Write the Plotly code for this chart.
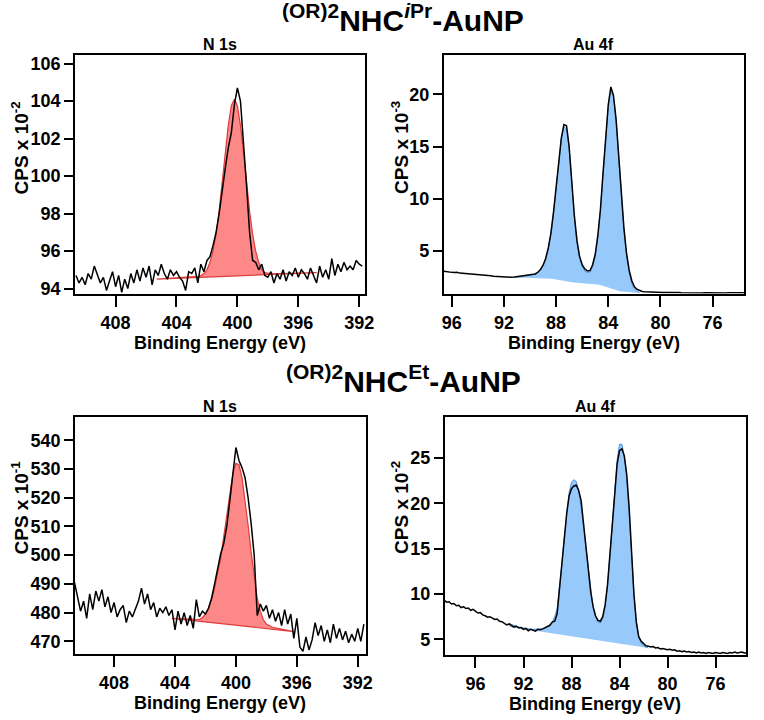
import numpy as np
import plotly.graph_objects as go

STEP = 0.2

# ---------------- Panel A: N 1s, (OR)2NHC-iPr ----------------
n1s_ipr_start = 410.6
n1s_ipr_cps = [
    94.7, 94.3, 94.6, 94.2, 94.8, 94.5, 95.2, 94.7, 94.3, 94.6,
    93.9, 94.4, 94.9, 94.1, 94.7, 93.8, 94.5, 94.0, 94.8, 94.3,
    95.0, 94.4, 95.1, 94.6, 95.2, 94.2, 95.0, 94.7, 95.3, 94.8,
    94.5, 95.0, 94.7, 94.9, 94.6, 94.4, 93.9, 94.9, 94.8, 95.1,
    94.3, 95.3, 94.9, 95.5, 95.7, 96.3, 97.0, 98.0, 99.3, 100.4,
    101.5, 102.3, 103.8, 104.7, 104.0, 101.9, 99.5, 97.0, 95.5, 95.4,
    95.0, 95.3, 94.7, 94.6, 94.9, 94.3, 94.8, 94.5, 95.0, 94.4,
    94.9, 94.7, 95.1, 94.6, 95.0, 94.8, 94.5, 95.1, 94.7, 94.3,
    95.2, 94.6, 95.0, 94.5, 95.6, 94.7, 95.3, 94.9, 95.4, 95.0,
    95.2, 95.0, 95.5, 95.3, 95.2,
]
n1s_ipr_fit_start = 402.8
n1s_ipr_fit = [
    94.63, 94.65, 94.7, 94.8, 95.0, 95.4, 96.0, 96.9, 98.15, 99.65,
    101.3, 102.7, 103.75, 104.1, 103.75, 102.7, 101.3, 99.65, 98.15, 96.9,
    96.0, 95.4, 95.0, 94.85, 94.8, 94.78,
]
n1s_ipr_bg_x = [405.3, 394.8]
n1s_ipr_bg_y = [94.5, 94.85]

# ---------------- Panel B: Au 4f, (OR)2NHC-iPr ----------------
au_ipr_start = 96.6
au_ipr_cps = [
    3.08, 3.02, 3.0, 2.97, 2.95, 2.97, 2.9, 2.88, 2.9, 2.84,
    2.82, 2.8, 2.78, 2.76, 2.73, 2.72, 2.68, 2.66, 2.64, 2.6,
    2.58, 2.56, 2.55, 2.53, 2.5, 2.52,
    2.5, 2.52, 2.55, 2.58, 2.6, 2.63, 2.66, 2.7, 2.75, 2.82,
    2.98, 3.25, 3.65, 4.3, 5.3, 6.7, 8.7, 11.2, 13.7, 15.8,
    17.1, 17.0, 15.0, 11.6, 8.4, 6.0, 4.5, 3.7, 3.3, 3.1,
    3.15, 3.7, 4.7, 6.5, 9.0, 12.5, 16.0, 19.0, 20.7, 19.9,
    17.6, 14.2, 10.5, 7.2, 4.8, 3.2, 2.2, 1.6, 1.35, 1.22,
    1.15, 1.12, 1.1, 1.08, 1.07, 1.06, 1.06, 1.05,
    1.05, 1.04, 1.05, 1.03, 1.04, 1.02, 1.04, 1.03, 1.02, 1.04,
    1.02, 1.03, 1.01, 1.03, 1.02, 1.0, 1.02, 1.01, 1.03, 1.0,
    1.02, 1.01, 1.0, 1.02, 1.0, 1.01, 1.03, 1.0, 1.02, 1.01,
    1.03, 1.02,
]
au_ipr_fit_start = 91.2
au_ipr_fit = [
    2.5, 2.5, 2.52, 2.55, 2.58, 2.62, 2.67, 2.73, 2.8, 2.95,
    3.2, 3.6, 4.2, 5.2, 6.6, 8.6, 11.0, 13.6, 15.7, 16.9,
    16.7, 14.8, 11.4, 8.2, 5.8, 4.3, 3.5, 3.1, 2.95, 3.0,
    3.5, 4.5, 6.3, 8.8, 12.3, 15.8, 18.8, 20.4, 19.7, 17.5,
    14.0, 10.3, 7.0, 4.6, 2.9, 1.9, 1.4, 1.15, 1.05,
]
au_ipr_bg = [
    2.5, 2.49, 2.48, 2.47, 2.46, 2.45, 2.44, 2.43, 2.42, 2.41,
    2.4, 2.39, 2.38, 2.37, 2.35, 2.33, 2.3, 2.26, 2.22, 2.17,
    2.12, 2.07, 2.02, 1.98, 1.95, 1.93, 1.92, 1.9, 1.89, 1.88,
    1.86, 1.84, 1.81, 1.77, 1.72, 1.65, 1.56, 1.46, 1.36, 1.27,
    1.19, 1.13, 1.09, 1.06, 1.04, 1.03, 1.02, 1.01, 1.0,
]

# ---------------- Panel C: N 1s, (OR)2NHC-Et ----------------
n1s_et_start = 410.6
n1s_et_cps = [
    490.5, 485.0, 480.5, 484.0, 478.0, 486.5, 481.0, 487.5, 484.0, 488.0,
    482.0, 485.5, 480.0, 483.5, 478.5, 481.0, 482.5, 476.5, 480.5, 478.5,
    481.5, 484.0, 488.5, 483.0, 486.5, 481.0, 483.5, 478.5, 481.5, 480.0,
    482.0, 479.0, 481.0, 474.0, 480.5, 476.0, 480.0, 475.5, 479.0, 474.5,
    484.5, 478.5, 480.5, 479.5, 481.5, 485.0, 490.0, 496.0, 500.5, 504.0,
    510.0, 519.0, 528.0, 537.5, 533.0, 530.5, 527.0, 520.0, 511.0, 500.0,
    479.0, 483.0, 480.5, 482.5, 478.0, 481.0, 477.0, 480.0, 475.5, 481.0,
    476.0, 479.5, 471.0, 478.0, 468.0, 466.5, 471.5, 467.0, 470.5, 476.5,
    472.0, 475.5, 470.0, 474.0, 469.5, 476.0, 471.0, 474.5, 470.5, 473.5,
    469.5, 472.5, 470.0, 474.5, 470.0, 476.0,
]
n1s_et_fit_start = 402.4
n1s_et_fit = [
    477.6, 478.3, 479.5, 481.5, 484.5, 488.5, 493.5, 499.0, 506.5, 514.5,
    522.0, 528.5, 532.0, 531.5, 527.0, 519.5, 510.5, 501.0, 492.0, 485.0,
    480.5, 477.5, 476.0, 475.3, 474.9,
]
n1s_et_bg_x = [404.2, 396.2]
n1s_et_bg_y = [478.0, 473.4]

# ---------------- Panel D: Au 4f, (OR)2NHC-Et ----------------
au_et_start = 98.6
au_et_cps = [
    9.3, 9.1, 9.15, 8.9, 8.95, 8.7, 8.75, 8.5, 8.6, 8.4,
    8.45, 8.2, 8.3, 8.1, 7.9, 7.95, 7.7, 7.6, 7.45, 7.5,
    7.3, 7.2, 7.25, 7.0, 6.95, 6.8, 6.6, 6.7, 6.5, 6.35,
    6.45, 6.25, 6.3, 6.1, 6.2, 5.95, 6.1, 6.0, 5.9, 6.1,
    6.05, 6.15, 6.3, 6.4, 6.55, 6.9, 7.0, 7.8, 10.8, 13.5,
    16.3, 18.9, 20.8, 21.6, 21.9, 22.0, 21.4, 20.3, 17.8, 15.2,
    12.6, 10.2, 8.6, 7.6, 7.1, 7.0, 7.5, 8.8, 11.0, 14.2,
    17.6, 21.2, 24.3, 25.8, 26.0, 25.2, 23.2, 19.6, 14.6, 10.0,
    6.9, 5.3, 4.8, 4.5, 4.3, 4.25, 4.15, 4.2, 4.05, 4.1,
    3.95, 4.0, 3.9, 3.85, 3.9, 3.8, 3.85, 3.7, 3.75, 3.65,
    3.7, 3.6, 3.65, 3.55, 3.6, 3.5, 3.6, 3.5, 3.55, 3.45,
    3.55, 3.5, 3.45, 3.55, 3.5, 3.45, 3.55, 3.5, 3.45, 3.55,
    3.5, 3.6, 3.5, 3.55, 3.6, 3.5, 3.5,
]
au_et_fit_start = 93.2
au_et_fit = [
    6.75, 6.62, 6.52, 6.44, 6.36, 6.3, 6.25, 6.2, 6.15, 6.12,
    6.1, 6.1, 6.1, 6.12, 6.16, 6.24, 6.38, 6.6, 6.95, 7.5,
    8.4, 10.6, 13.3, 16.2, 19.0, 21.2, 22.3, 22.6, 22.4, 21.3,
    19.5, 17.3, 14.8, 12.3, 10.1, 8.5, 7.5, 6.9, 6.8, 7.3,
    8.6, 10.9, 14.2, 18.0, 21.8, 24.8, 26.5, 26.5, 25.2, 22.6,
    18.8, 14.3, 10.0, 7.0, 5.3, 4.6, 4.3, 4.15, 4.05,
]
au_et_bg_x = [93.2, 81.6]
au_et_bg_y = [6.4, 4.05]

# ---------------- text ----------------
titles = ["<b><sup>(OR)2</sup>NHC<sup><i>i</i>Pr</sup>-AuNP</b>",
          "<b><sup>(OR)2</sup>NHC<sup>Et</sup>-AuNP</b>"]
panel_titles = ["N 1s", "Au 4f", "N 1s", "Au 4f"]
y_titles = ["CPS x 10<sup>-2</sup>", "CPS x 10<sup>-3</sup>",
            "CPS x 10<sup>-1</sup>", "CPS x 10<sup>-2</sup>"]
x_title = "Binding Energy (eV)"
n1s_ticks = [408, 404, 400, 396, 392]
au_ticks = [96, 92, 88, 84, 80, 76]
yticks = [[94, 96, 98, 100, 102, 104, 106], [5, 10, 15, 20],
          [470, 480, 490, 500, 510, 520, 530, 540], [5, 10, 15, 20, 25]]


def grid(start, vals):
    return np.round(start - STEP * np.arange(len(vals)), 2)


W, H = 764, 720
RED_FILL = "rgba(252,130,130,0.95)"
RED_LINE = "#e23b3b"
BLUE_FILL = "rgba(145,199,250,0.95)"
BLUE_LINE = "#4a97e3"

fig = go.Figure()

# Panel A
fx = list(grid(n1s_ipr_fit_start, n1s_ipr_fit))
fig.add_trace(go.Scatter(
    x=[n1s_ipr_bg_x[0]] + fx + [n1s_ipr_bg_x[1], n1s_ipr_bg_x[0]],
    y=[n1s_ipr_bg_y[0]] + n1s_ipr_fit + [n1s_ipr_bg_y[1], n1s_ipr_bg_y[0]],
    fill="toself", fillcolor=RED_FILL, mode="lines",
    line=dict(color=RED_LINE, width=1.2), xaxis="x", yaxis="y"))
fig.add_trace(go.Scatter(x=grid(n1s_ipr_start, n1s_ipr_cps), y=n1s_ipr_cps, mode="lines",
                         line=dict(color="black", width=1.5), xaxis="x", yaxis="y"))

# Panel B
fx = list(grid(au_ipr_fit_start, au_ipr_fit))
fig.add_trace(go.Scatter(
    x=fx + fx[::-1], y=au_ipr_fit + au_ipr_bg[::-1],
    fill="toself", fillcolor=BLUE_FILL, mode="lines",
    line=dict(width=0), xaxis="x2", yaxis="y2"))
fig.add_trace(go.Scatter(x=fx, y=au_ipr_fit, mode="lines",
                         line=dict(color=BLUE_LINE, width=1), xaxis="x2", yaxis="y2"))
fig.add_trace(go.Scatter(x=grid(au_ipr_start, au_ipr_cps), y=au_ipr_cps, mode="lines",
                         line=dict(color="black", width=1.5), xaxis="x2", yaxis="y2"))

# Panel C
fx = list(grid(n1s_et_fit_start, n1s_et_fit))
fig.add_trace(go.Scatter(
    x=[n1s_et_bg_x[0]] + fx + [n1s_et_bg_x[1], n1s_et_bg_x[0]],
    y=[n1s_et_bg_y[0]] + n1s_et_fit + [n1s_et_bg_y[1], n1s_et_bg_y[0]],
    fill="toself", fillcolor=RED_FILL, mode="lines",
    line=dict(color=RED_LINE, width=1.2), xaxis="x3", yaxis="y3"))
fig.add_trace(go.Scatter(x=grid(n1s_et_start, n1s_et_cps), y=n1s_et_cps, mode="lines",
                         line=dict(color="black", width=1.5), xaxis="x3", yaxis="y3"))

# Panel D
fx = list(grid(au_et_fit_start, au_et_fit))
fig.add_trace(go.Scatter(
    x=[au_et_bg_x[0]] + fx + [au_et_bg_x[1], au_et_bg_x[0]],
    y=[au_et_bg_y[0]] + au_et_fit + [au_et_bg_y[1], au_et_bg_y[0]],
    fill="toself", fillcolor=BLUE_FILL, mode="lines",
    line=dict(width=0), xaxis="x4", yaxis="y4"))
fig.add_trace(go.Scatter(x=fx, y=au_et_fit, mode="lines",
                         line=dict(color=BLUE_LINE, width=1), xaxis="x4", yaxis="y4"))
fig.add_trace(go.Scatter(x=grid(au_et_start, au_et_cps), y=au_et_cps, mode="lines",
                         line=dict(color="black", width=1.5), xaxis="x4", yaxis="y4"))

FONT = "Liberation Sans, Arial, sans-serif"
tickfont = dict(family=FONT, size=18, color="black", weight="bold")
axis_common = dict(showline=True, linecolor="black", linewidth=1.5, mirror=True,
                   ticks="outside", tickcolor="black", tickwidth=1.5,
                   showgrid=False, zeroline=False, tickfont=tickfont)


def px(x0, x1):
    return [x0 / W, x1 / W]


def py(top, bottom):
    return [1 - bottom / H, 1 - top / H]


# panel boxes (pixels): left, right, top, bottom
boxes = [(74, 368, 54, 295), (448, 753, 54, 295), (74, 369, 419, 658), (449, 755, 419, 659)]
xranges = [[410.67, 391.64], [96.63, 73.58], [410.57, 391.48], [98.58, 73.45]]
yranges = [[93.735, 106.48], [0.945, 23.8], [465.75, 548.3], [3.33, 29.56]]
xticks = [n1s_ticks, au_ticks, n1s_ticks, au_ticks]

layout = dict(width=W, height=H, margin=dict(l=0, r=0, t=0, b=0),
              paper_bgcolor="white", plot_bgcolor="white", showlegend=False,
              font=dict(family=FONT, color="black"))
for i in range(4):
    s = "" if i == 0 else str(i + 1)
    l, r, t, b = boxes[i]
    layout["xaxis" + s] = dict(axis_common, domain=px(l, r), range=xranges[i],
                               tickvals=xticks[i], ticklen=12, anchor="y" + s)
    layout["yaxis" + s] = dict(axis_common, domain=py(t, b), range=yranges[i],
                               tickvals=yticks[i], ticklen=9, anchor="x" + s)
fig.update_layout(**layout)

ann = []
# main titles
for t, yc in zip(titles, [17, 381]):
    ann.append(dict(text=t, x=407 / W, y=1 - yc / H, xref="paper", yref="paper",
                    showarrow=False, xanchor="center", yanchor="middle",
                    font=dict(family=FONT, size=30, color="black")))
# panel titles
for i, t in enumerate(panel_titles):
    l, r, top, b = boxes[i]
    ann.append(dict(text="<b>" + t + "</b>", x=(l + r) / 2 / W, y=1 - (top - 10) / H,
                    xref="paper", yref="paper", showarrow=False,
                    xanchor="center", yanchor="middle",
                    font=dict(family=FONT, size=16, color="black")))
    # x titles
    ann.append(dict(text="<b>" + x_title + "</b>", x=(l + r) / 2 / W, y=1 - (b + 50) / H,
                    xref="paper", yref="paper", showarrow=False,
                    xanchor="center", yanchor="middle",
                    font=dict(family=FONT, size=18, color="black")))
# y titles
for i, t in enumerate(y_titles):
    xc = [18, 404, 18, 404][i]
    yc = [148, 148, 511, 511][i]
    ann.append(dict(text="<b>" + t + "</b>", x=xc / W, y=1 - yc / H,
                    xref="paper", yref="paper", showarrow=False, textangle=-90,
                    xanchor="center", yanchor="middle",
                    font=dict(family=FONT, size=19, color="black")))
fig.update_layout(annotations=ann)

fig.write_html("out.html")
